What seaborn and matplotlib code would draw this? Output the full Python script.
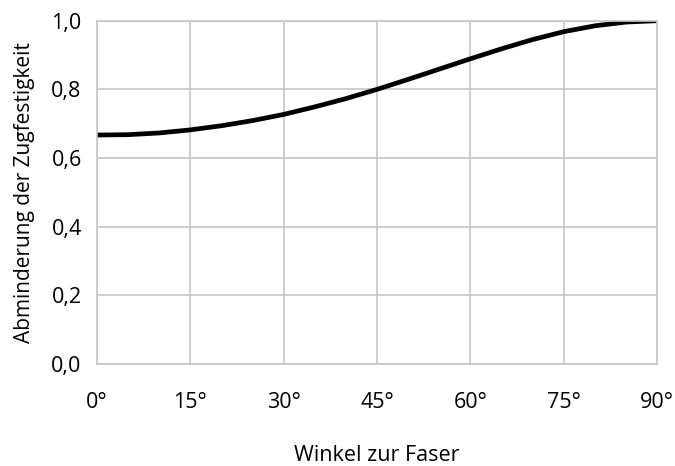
import matplotlib
matplotlib.use("Agg")
import matplotlib.pyplot as plt
import seaborn as sns
import pandas as pd

angles = [0, 5, 10, 15, 20, 25, 30, 35, 40, 45, 50, 55, 60, 65, 70, 75, 80, 85, 90]
factor = [0.667, 0.668, 0.673, 0.682, 0.694, 0.709, 0.727, 0.749, 0.773, 0.800,
          0.829, 0.859, 0.889, 0.918, 0.945, 0.968, 0.985, 0.996, 1.000]
x_ticks = [0, 15, 30, 45, 60, 75, 90]
x_ticklabels = ["0°", "15°", "30°", "45°", "60°", "75°", "90°"]
y_ticks = [0.0, 0.2, 0.4, 0.6, 0.8, 1.0]
y_ticklabels = ["0,0", "0,2", "0,4", "0,6", "0,8", "1,0"]

sns.set_theme(style="white")
plt.rcParams["font.family"] = ["Open Sans", "DejaVu Sans"]

df = pd.DataFrame({"Winkel": angles, "Faktor": factor})

fig = plt.figure(figsize=(6.75, 4.66), dpi=100)
ax = fig.add_axes([97/675, 1 - 364/466, (657-97)/675, (364-20.7)/466])

sns.lineplot(data=df, x="Winkel", y="Faktor", ax=ax, color="black", linewidth=3.4)

ax.set_xlim(0, 90)
ax.set_ylim(0, 1.0)
ax.set_xticks(x_ticks)
ax.set_xticklabels(x_ticklabels)
ax.set_yticks(y_ticks)
ax.set_yticklabels(y_ticklabels)
ax.grid(True, color="#c6c6c6", linewidth=1.2)
ax.set_axisbelow(True)
for s in ax.spines.values():
    s.set_visible(True)
    s.set_color("#c6c6c6")
    s.set_linewidth(1.2)
ax.tick_params(axis="both", length=0, labelsize=15.5, colors="black")
ax.tick_params(axis="x", pad=20)
ax.tick_params(axis="y", pad=11)
ax.set_xlabel("Winkel zur Faser", fontsize=15.5, labelpad=23, color="black")
ax.set_ylabel("Abminderung der Zugfestigkeit", fontsize=15, labelpad=12, color="black")

fig.savefig("out.png", dpi=100)
